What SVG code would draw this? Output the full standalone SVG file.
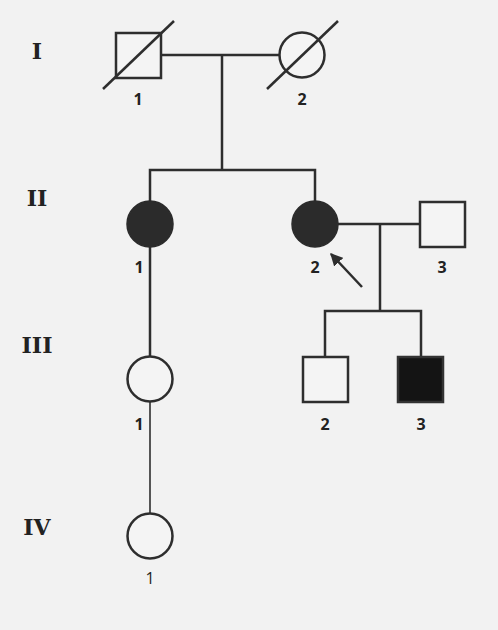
<svg xmlns="http://www.w3.org/2000/svg" width="498" height="630" viewBox="0 0 498 630">
<defs>
<style>
.ln{stroke:#2e2e2e;stroke-width:2.5;fill:none}
.thin{stroke:#2e2e2e;stroke-width:1.6;fill:none}
.open{fill:#f4f4f4;stroke:#2e2e2e;stroke-width:2.5}
.aff{fill:#2b2b2b;stroke:#2b2b2b;stroke-width:1.5}
.aff2{fill:#141414;stroke:#333;stroke-width:2.5}
.gen{font-family:"DejaVu Serif",serif;font-weight:bold;font-size:22px;fill:#222;text-anchor:middle}
.lab{font-family:"Open Sans","Liberation Sans",sans-serif;font-weight:bold;font-size:16px;fill:#222;text-anchor:middle}
.lab2{font-family:"Open Sans","Liberation Sans",sans-serif;font-size:16px;fill:#222;text-anchor:middle}
</style>
<marker id="ah" viewBox="0 0 10 10" refX="9" refY="5" markerWidth="5" markerHeight="5" orient="auto">
<path d="M0,0 L10,5 L0,10 z" fill="#2e2e2e"/>
</marker>
</defs>
<rect x="0" y="0" width="498" height="630" fill="#f2f2f2"/>
<g id="gen-labels">
<text class="gen" x="37" y="59">I</text>
<text class="gen" x="37" y="206">II</text>
<text class="gen" x="37" y="353">III</text>
<text class="gen" x="37" y="535">IV</text>
</g>
<g id="connectors">
<line class="ln" x1="161" y1="55" x2="280" y2="55"/>
<line class="ln" x1="222" y1="55" x2="222" y2="170"/>
<polyline class="ln" points="150,202 150,170 315,170 315,202"/>
<line class="ln" x1="150" y1="247" x2="150" y2="357"/>
<line class="thin" x1="150" y1="402" x2="150" y2="514"/>
<line class="ln" x1="338" y1="224" x2="420" y2="224"/>
<line class="ln" x1="380" y1="224" x2="380" y2="311"/>
<polyline class="ln" points="325,357 325,311 421,311 421,357"/>
<line class="ln" x1="362" y1="287" x2="331" y2="254" marker-end="url(#ah)"/>
</g>
<g id="I-1">
<rect class="open" x="116" y="33" width="45" height="45"/>
<line class="ln" x1="103" y1="89" x2="174" y2="21"/>
<text class="lab" x="138" y="105">1</text>
</g>
<g id="I-2">
<circle class="open" cx="302" cy="55" r="22.5"/>
<line class="ln" x1="267" y1="89" x2="338" y2="21"/>
<text class="lab" x="302" y="105">2</text>
</g>
<g id="II-1">
<circle class="aff" cx="150" cy="224" r="23"/>
<text class="lab" x="139" y="273">1</text>
</g>
<g id="II-2">
<circle class="aff" cx="315" cy="224" r="23"/>
<text class="lab" x="315" y="273">2</text>
</g>
<g id="II-3">
<rect class="open" x="420" y="202" width="45" height="45"/>
<text class="lab" x="442" y="273">3</text>
</g>
<g id="III-1">
<circle class="open" cx="150" cy="379" r="22.5"/>
<text class="lab" x="139" y="430">1</text>
</g>
<g id="III-2">
<rect class="open" x="303" y="357" width="45" height="45"/>
<text class="lab" x="325" y="430">2</text>
</g>
<g id="III-3">
<rect class="aff2" x="398" y="357" width="45" height="45"/>
<text class="lab" x="421" y="430">3</text>
</g>
<g id="IV-1">
<circle class="open" cx="150" cy="536" r="22.5"/>
<text class="lab2" x="150" y="584">1</text>
</g>
</svg>
